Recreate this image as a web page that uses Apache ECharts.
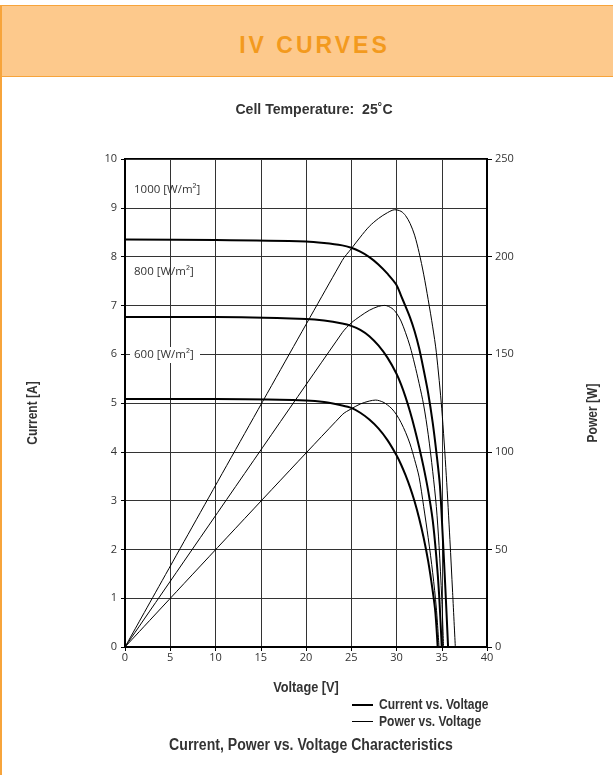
<!DOCTYPE html>
<html>
<head>
<meta charset="utf-8">
<title>IV Curves</title>
<script src="https://cdn.jsdelivr.net/npm/echarts@6/dist/echarts.min.js"></script>
<style>
  html, body { margin: 0; padding: 0; background: #fff; }
  #page { position: relative; width: 613px; height: 775px; overflow: hidden; }
  #page::before {
    content: ''; position: absolute; left: 0; top: 5px; bottom: 0;
    border-left: 2px solid #f7a43b;
  }
  .header {
    position: absolute; left: 0; top: 5px; width: 613px; height: 72px;
    background: #fdc98c; border-top: 1.5px solid #f7a43b; border-bottom: 1.5px solid #f7a43b;
    border-left: 2px solid #f7a43b; box-sizing: border-box; padding-left: 14px;
    text-align: center; line-height: 78px; overflow: hidden;
    font-family: 'Liberation Sans', 'DejaVu Sans', sans-serif; font-weight: bold;
    font-size: 23px; letter-spacing: 3px; color: #f39a1e;
  }
  #chart { position: absolute; left: 0; top: 0; width: 613px; height: 775px; }
</style>
</head>
<body>
<div id="page">
  <div id="chart"></div>
  <div class="header">IV CURVES</div>
</div>
<script>
// [voltage, current]
const current1000 = [[0, 8.35], [10, 8.34], [20, 8.31], [22, 8.28], [24, 8.23], [25, 8.18], [26, 8.1], [27, 7.99],
  [28, 7.84], [29, 7.65], [30, 7.42], [30.5, 7.2], [31, 6.98], [31.5, 6.75], [32, 6.47], [32.5, 6.12], [33, 5.68],
  [33.5, 5.2], [34, 4.6], [34.4, 4.0], [34.8, 3.3], [35.1, 2.3], [35.4, 1.2], [35.7, 0]];
const current800 = [[0, 6.76], [10, 6.76], [20, 6.72], [22, 6.69], [24, 6.63], [25, 6.58], [26, 6.5], [27, 6.37],
  [28, 6.18], [29, 5.93], [30, 5.6], [30.5, 5.38], [31, 5.12], [31.5, 4.82], [32, 4.48], [32.5, 4.1], [33, 3.68],
  [33.5, 3.2], [34, 2.6], [34.4, 1.85], [34.7, 1.1], [35.0, 0]];
const current600 = [[0, 5.08], [10, 5.08], [20, 5.05], [22, 5.02], [24, 4.95], [25, 4.9], [26, 4.8], [27, 4.66],
  [28, 4.48], [29, 4.24], [30, 3.93], [30.5, 3.74], [31, 3.52], [31.5, 3.27], [32, 2.98], [32.5, 2.64], [33, 2.24],
  [33.5, 1.76], [34, 1.15], [34.3, 0.7], [34.55, 0]];

// [voltage, power]
const power1000 = [[0, 0], [24, 198], [25, 204], [26, 210], [27, 215.5], [28, 219.5], [29, 222.5], [29.8, 224],
  [30.5, 223.2], [31, 221], [31.5, 217], [32, 211], [32.5, 202], [33, 191], [33.5, 178], [34, 164], [34.4, 151],
  [35, 122], [35.5, 88], [35.9, 55], [36.2, 28], [36.5, 0]];
const power800 = [[0, 0], [24, 161], [25, 166], [26, 169.5], [27, 172.5], [28, 174.5], [28.7, 175], [29.5, 173.5],
  [30, 171], [30.5, 167], [31, 161], [31.5, 154], [32, 145], [32.5, 135], [33, 124], [33.5, 109], [34, 90],
  [34.4, 72], [34.7, 52], [35.0, 25], [35.2, 0]];
const power600 = [[0, 0], [24, 119], [25, 122], [26, 124.5], [27, 126], [27.7, 126.5], [28.5, 125.5], [29, 124],
  [29.5, 122], [30, 119], [30.5, 115], [31, 110], [31.5, 104], [32, 96], [32.5, 87], [33, 72], [33.5, 56],
  [34, 38], [34.4, 20], [34.7, 0]];

const voltageTicks = { min: 0, max: 40, interval: 5 };
const currentTicks = { min: 0, max: 10, interval: 1 };
const powerTicks = { min: 0, max: 250, interval: 50 };

const sans = "'Liberation Sans', Arial, sans-serif";
const tickFont = { fontFamily: "'Open Sans', sans-serif", fontSize: 11, color: '#333' };
const gridColor = '#333';

function curve(name, data, width, axis) {
  return {
    name: name,
    type: 'line',
    yAxisIndex: axis,
    data: data,
    smooth: 0.3,
    symbol: 'none',
    silent: true,
    lineStyle: { color: '#000', width: width, join: 'round' },
  };
}

// condensed bold captions
function caption(text, x, y, size, scale, extra) {
  return Object.assign({
    type: 'text', x: x, y: y, scaleX: scale, z: 20,
    style: {
      text: text, fill: '#333', align: 'center', verticalAlign: 'middle',
      font: 'bold ' + size + 'px ' + sans,
    },
  }, extra || {});
}

function legendText(text, y) {
  return {
    type: 'text', x: 379, y: y, scaleX: 0.86, z: 20,
    style: { text: text, fill: '#333', align: 'left', verticalAlign: 'middle', font: 'bold 14px ' + sans },
  };
}

function irradiance(text, y) {
  return {
    type: 'text', x: 134, y: y, z: 10,
    style: { text: text, font: "11.5px 'Open Sans', sans-serif", fill: '#333', verticalAlign: 'middle' },
  };
}

const chart = echarts.init(document.getElementById('chart'));
chart.setOption({
  animation: false,
  grid: {
    left: 125, top: 159, width: 362, height: 488,
    show: true, borderColor: '#000', borderWidth: 2,
  },
  xAxis: {
    type: 'value',
    ...voltageTicks,
    axisLine: { lineStyle: { color: '#000', width: 2 } },
    axisTick: { length: 4, lineStyle: { color: '#000' } },
    axisLabel: { ...tickFont, margin: 5 },
    splitLine: { lineStyle: { color: gridColor, width: 1 } },
  },
  yAxis: [
    {
      type: 'value',
      ...currentTicks,
      axisLine: { show: true, lineStyle: { color: '#000', width: 2 } },
      axisTick: { show: true, length: 4, lineStyle: { color: '#000' } },
      axisLabel: { ...tickFont, margin: 8 },
      splitLine: { lineStyle: { color: gridColor, width: 1 } },
    },
    {
      type: 'value',
      ...powerTicks,
      position: 'right',
      axisLine: { show: true, lineStyle: { color: '#000', width: 2 } },
      axisTick: { show: true, length: 5, lineStyle: { color: '#000' } },
      axisLabel: { ...tickFont, margin: 8 },
      splitLine: { show: false },
    },
  ],
  graphic: [
    caption('Cell Temperature:  25˚C', 314, 110, 15, 0.94),
    caption('Voltage [V]', 306, 688, 14.5, 0.88),
    caption('Current [A]', 33, 413, 14, 0.86, { rotation: Math.PI / 2 }),
    caption('Power [W]', 593, 413, 14, 0.86, { rotation: Math.PI / 2 }),
    caption('Current, Power vs. Voltage Characteristics', 311, 746, 16, 0.88),
    // legend
    { type: 'line', z: 20, shape: { x1: 352, y1: 705, x2: 373, y2: 705 }, style: { stroke: '#000', lineWidth: 2 } },
    { type: 'line', z: 20, shape: { x1: 352, y1: 721.5, x2: 373, y2: 721.5 }, style: { stroke: '#000', lineWidth: 1 } },
    legendText('Current vs. Voltage', 705),
    legendText('Power vs. Voltage', 722),
    // irradiance labels
    irradiance('1000 [W/m²]', 190),
    irradiance('800 [W/m²]', 272),
    { type: 'rect', x: 130, y: 347, z: 9, shape: { width: 70, height: 16 }, style: { fill: '#fff' } },
    irradiance('600 [W/m²]', 355),
  ],
  series: [
    curve('Current vs. Voltage', current1000, 2, 0),
    curve('Current vs. Voltage', current800, 2, 0),
    curve('Current vs. Voltage', current600, 2, 0),
    curve('Power vs. Voltage', power1000, 1, 1),
    curve('Power vs. Voltage', power800, 1, 1),
    curve('Power vs. Voltage', power600, 1, 1),
  ],
});
</script>
</body>
</html>
